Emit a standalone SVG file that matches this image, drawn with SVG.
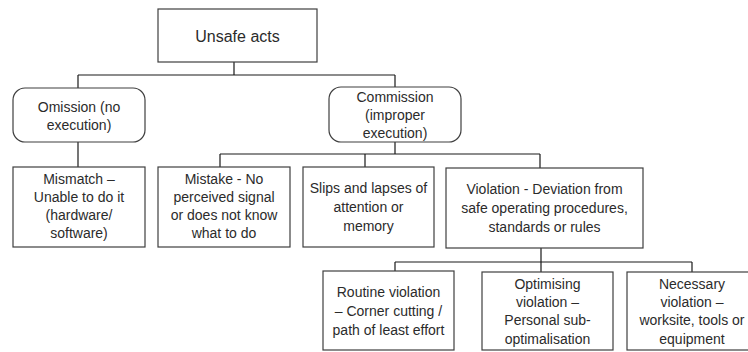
<svg xmlns="http://www.w3.org/2000/svg" width="748" height="352" viewBox="0 0 748 352">
  <style>
    .box { fill: #ffffff; stroke: #3f3f3f; stroke-width: 1.2; }
    .wire { fill: none; stroke: #1a1a1a; stroke-width: 1.2; }
    text { font-family: "Liberation Sans", Arial, sans-serif; font-size: 14px; fill: #2b2b2b; text-anchor: middle; }
    .title { font-size: 16px; }
  </style>
  <rect width="748" height="352" fill="#ffffff"/>

  <!-- tree connectors -->
  <g id="connectors" class="wire">
    <path d="M234 62 V75 M78 75 H395 M78 75 V88 M395 75 V87"/>
    <path d="M78 142 V167"/>
    <path d="M395 142 V154 M220 154 H540 M220 154 V167 M365 154 V167 M540 154 V168"/>
    <path d="M541 248 V272 M395 262 H692 M395 262 V271 M692 262 V272"/>
  </g>

  <g id="unsafe-acts">
    <rect class="box" x="158" y="9" width="159" height="53"/>
    <text class="title" x="237.5" y="42">Unsafe acts</text>
  </g>

  <g id="omission">
    <rect class="box" x="13" y="88" width="132" height="54" rx="12"/>
    <text x="79" y="112">Omission (no</text>
    <text x="79" y="130">execution)</text>
  </g>

  <g id="commission">
    <rect class="box" x="329" y="87" width="132" height="55" rx="12"/>
    <text x="395" y="102">Commission</text>
    <text x="395" y="120">(improper</text>
    <text x="395" y="138">execution)</text>
  </g>

  <g id="mismatch">
    <rect class="box" x="13" y="167" width="132" height="80"/>
    <text x="79" y="184">Mismatch –</text>
    <text x="79" y="202">Unable to do it</text>
    <text x="79" y="220">(hardware/</text>
    <text x="79" y="238">software)</text>
  </g>

  <g id="mistake">
    <rect class="box" x="158" y="167" width="132" height="80"/>
    <text x="224" y="184">Mistake - No</text>
    <text x="224" y="202">perceived signal</text>
    <text x="224" y="220">or does not know</text>
    <text x="224" y="238">what to do</text>
  </g>

  <g id="slips">
    <rect class="box" x="303" y="167" width="131" height="80"/>
    <text x="368.5" y="193">Slips and lapses of</text>
    <text x="368.5" y="212">attention or</text>
    <text x="368.5" y="231">memory</text>
  </g>

  <g id="violation">
    <rect class="box" x="446" y="168" width="197" height="80"/>
    <text x="544.5" y="194">Violation - Deviation from</text>
    <text x="544.5" y="213">safe operating procedures,</text>
    <text x="544.5" y="232">standards or rules</text>
  </g>

  <g id="routine-violation">
    <rect class="box" x="323" y="271" width="131" height="79"/>
    <text x="388.5" y="297">Routine violation</text>
    <text x="388.5" y="316">– Corner cutting /</text>
    <text x="388.5" y="335">path of least effort</text>
  </g>

  <g id="optimising-violation">
    <rect class="box" x="482" y="272" width="131" height="78"/>
    <text x="547.5" y="289">Optimising</text>
    <text x="547.5" y="307">violation –</text>
    <text x="547.5" y="325">Personal sub-</text>
    <text x="547.5" y="344">optimalisation</text>
  </g>

  <g id="necessary-violation">
    <rect class="box" x="627" y="272" width="131" height="78"/>
    <text x="692" y="289">Necessary</text>
    <text x="692" y="307">violation –</text>
    <text x="692" y="325">worksite, tools or</text>
    <text x="692" y="344">equipment</text>
  </g>
</svg>
